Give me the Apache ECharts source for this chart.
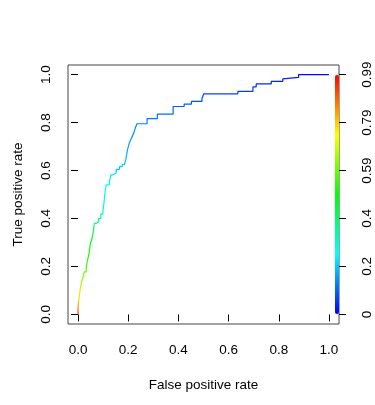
<!DOCTYPE html>
<html>
<head>
<meta charset="utf-8">
<script src="https://cdn.jsdelivr.net/npm/echarts@6/dist/echarts.min.js"></script>
<style>
  html, body { margin: 0; padding: 0; background: #fff; }
  #chart { width: 375px; height: 405px; }
</style>
</head>
<body>
<div id="chart"></div>
<script>
// ROC curve, step points (rise at previous fpr, then run right to this fpr)
const fpr = [0, 0.004, 0.01, 0.014, 0.02, 0.025, 0.033, 0.038, 0.044, 0.049,
  0.054, 0.06, 0.065, 0.073, 0.082, 0.091, 0.099, 0.104, 0.107, 0.112,
  0.125, 0.131, 0.139, 0.152, 0.165, 0.176, 0.185, 0.191, 0.197, 0.204,
  0.21, 0.216, 0.222, 0.228, 0.235, 0.275, 0.316, 0.379, 0.423, 0.452,
  0.494, 0.501, 0.637, 0.697, 0.71, 0.77, 0.816, 0.823, 0.879, 1];
const tpr = [0, 0.03, 0.07, 0.114, 0.135, 0.156, 0.177, 0.198, 0.226, 0.254,
  0.296, 0.31, 0.338, 0.38, 0.386, 0.4, 0.418, 0.428, 0.47, 0.505,
  0.54, 0.553, 0.582, 0.59, 0.605, 0.616, 0.625, 0.63, 0.65, 0.686,
  0.714, 0.728, 0.742, 0.756, 0.777, 0.795, 0.816, 0.835, 0.867, 0.877,
  0.888, 0.9, 0.92, 0.93, 0.949, 0.961, 0.972, 0.982, 0.988, 1];
const cutoff = [0.99, 0.88, 0.78, 0.7, 0.66, 0.63, 0.6, 0.57, 0.54, 0.52,
  0.49, 0.47, 0.43, 0.38, 0.37, 0.35, 0.33, 0.32, 0.29, 0.27,
  0.25, 0.235, 0.22, 0.21, 0.2, 0.195, 0.19, 0.185, 0.18, 0.16,
  0.15, 0.145, 0.14, 0.135, 0.13, 0.12, 0.11, 0.1, 0.085, 0.08,
  0.075, 0.07, 0.06, 0.05, 0.04, 0.035, 0.03, 0.02, 0.01, 0];

const axisTicks = [0, 0.2, 0.4, 0.6, 0.8, 1];
const cutoffLabels = ['0', '0.2', '0.4', '0.59', '0.79', '0.99'];
const cutMin = 0, cutMax = 0.99;

const font = "'Liberation Sans', Arial, sans-serif";
const fs = 13.5;

// R rainbow(start=0,end=4/6): high cutoff red, low cutoff blue
function rainbow(c) {
  const h = (1 - (c - cutMin) / (cutMax - cutMin)) * 240;
  return 'hsl(' + h.toFixed(1) + ',100%,50%)';
}

const stops = tpr.map((t, i) => ({offset: t, color: rainbow(cutoff[i])}));
const barColors = [];
for (let i = 0; i <= 12; i++) barColors.push(rainbow(cutMin + (cutMax - cutMin) * i / 12));

const chart = echarts.init(document.getElementById('chart'), null, {renderer: 'canvas'});

const tickStyle = {show: true, inside: false, length: 7, customValues: axisTicks,
  lineStyle: {color: '#000', width: 1}};

const option = {
  animation: false,
  backgroundColor: '#fff',
  textStyle: {fontFamily: font},
  grid: {
    left: 68, right: 36, top: 65, bottom: 81,
    show: true, borderColor: '#444', borderWidth: 1, backgroundColor: 'transparent'
  },
  xAxis: {
    type: 'value', min: -0.04, max: 1.04,
    name: 'False positive rate', nameLocation: 'middle', nameGap: 54,
    nameTextStyle: {fontFamily: font, fontSize: fs, color: '#000'},
    axisLine: {show: false},
    splitLine: {show: false},
    axisTick: tickStyle,
    axisLabel: {customValues: axisTicks, margin: 19, fontSize: fs, color: '#000', fontFamily: font,
      formatter: v => v.toFixed(1)}
  },
  yAxis: [{
    type: 'value', min: -0.04, max: 1.04, position: 'left',
    name: 'True positive rate', nameLocation: 'middle', nameGap: 43,
    nameTextStyle: {fontFamily: font, fontSize: fs, color: '#000'},
    axisLine: {show: false},
    splitLine: {show: false},
    axisTick: tickStyle,
    axisLabel: {customValues: axisTicks, margin: 15, rotate: 90, fontSize: fs, color: '#000', fontFamily: font,
      formatter: v => v.toFixed(1)}
  }, {
    type: 'value', min: -0.04, max: 1.04, position: 'right',
    axisLine: {show: false},
    splitLine: {show: false},
    axisTick: tickStyle,
    axisLabel: {customValues: axisTicks, margin: 21, rotate: 90, fontSize: fs, color: '#000', fontFamily: font,
      formatter: v => cutoffLabels[Math.round(v * 5)]}
  }],
  visualMap: {
    type: 'continuous',
    min: cutMin, max: cutMax,
    dimension: 2,
    seriesIndex: 0,
    calculable: false,
    hoverLink: false,
    orient: 'vertical',
    left: 335, top: 75,
    padding: 0,
    itemWidth: 4, itemHeight: 239,
    text: null,
    inRange: {color: barColors}
  },
  series: [{
    type: 'line',
    step: 'start',
    showSymbol: false,
    symbol: 'none',
    data: fpr.map((x, i) => [x, tpr[i], cutoff[i]]),
    lineStyle: {width: 1.2, color: new echarts.graphic.LinearGradient(0, 1, 0, 0, stops)}
  }]
};

chart.setOption(option);
</script>
</body>
</html>
